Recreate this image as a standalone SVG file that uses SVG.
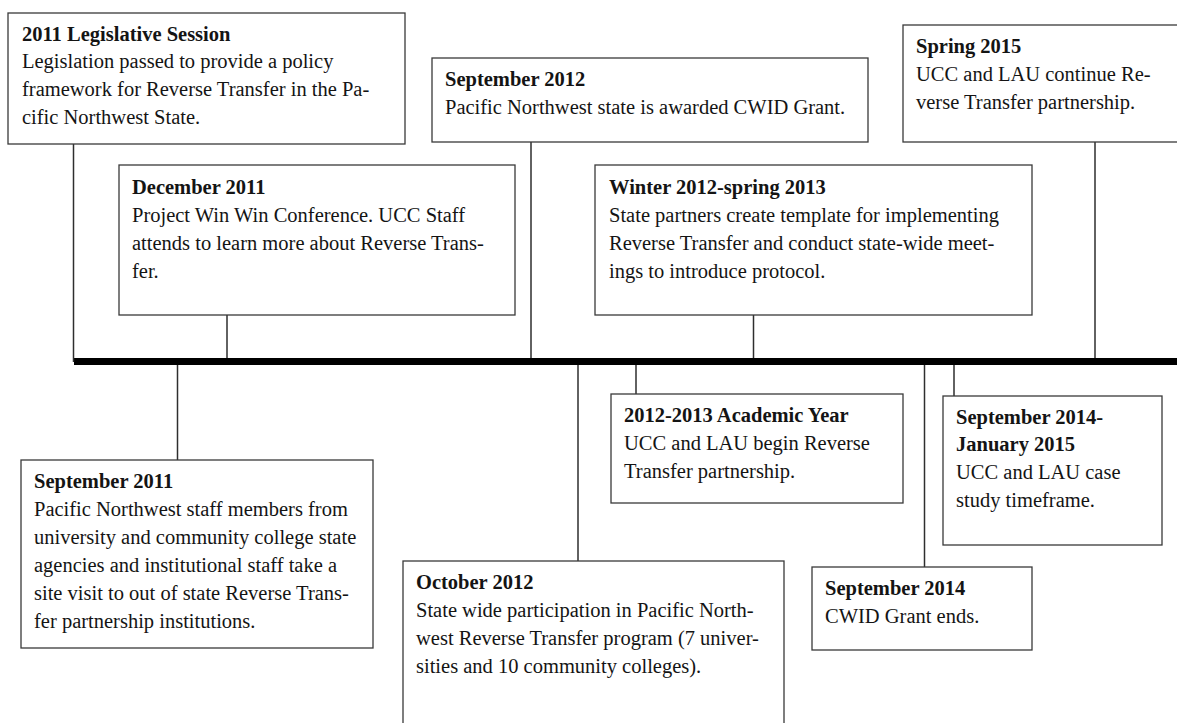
<svg xmlns="http://www.w3.org/2000/svg" width="1177" height="723" viewBox="0 0 1177 723">
  <style>
    .box { fill: #ffffff; stroke: #3a3a3a; stroke-width: 1.3; }
    .lbl { font-family: "Liberation Serif", "Times New Roman", serif; font-size: 20.5px; fill: #141414; }
    .hd { font-weight: bold; }
    .conn { stroke: #2e2e2e; stroke-width: 1.5; fill: none; }
    .axis { stroke: #000000; stroke-width: 7; fill: none; }
  </style>
  <rect width="1177" height="723" fill="#ffffff"/>

  <!-- connectors and the main time axis -->
  <g id="connectors">
    <line class="axis" x1="74" y1="361.5" x2="1177" y2="361.5"/>
    <line class="conn" x1="73.5" y1="144" x2="73.5" y2="362"/>
    <line class="conn" x1="227" y1="315" x2="227" y2="358"/>
    <line class="conn" x1="531" y1="142" x2="531" y2="358"/>
    <line class="conn" x1="753.5" y1="315" x2="753.5" y2="358"/>
    <line class="conn" x1="1095" y1="142" x2="1095" y2="358"/>
    <line class="conn" x1="177.5" y1="365" x2="177.5" y2="460"/>
    <line class="conn" x1="578" y1="365" x2="578" y2="561"/>
    <line class="conn" x1="636" y1="365" x2="636" y2="394"/>
    <line class="conn" x1="924.5" y1="365" x2="924.5" y2="567"/>
    <line class="conn" x1="954" y1="365" x2="954" y2="396"/>
  </g>

  <g id="legislative-2011">
    <rect class="box" x="8" y="13" width="397" height="131"/>
    <text class="lbl hd" x="22" y="40.5">2011 Legislative Session</text>
    <text class="lbl" x="22" y="68">Legislation passed to provide a policy</text>
    <text class="lbl" x="22" y="96">framework for Reverse Transfer in the Pa-</text>
    <text class="lbl" x="22" y="123.5">cific Northwest State.</text>
  </g>

  <g id="sep-2012">
    <rect class="box" x="432" y="58" width="436" height="84"/>
    <text class="lbl hd" x="445" y="86">September 2012</text>
    <text class="lbl" x="445" y="113.5">Pacific Northwest state is awarded CWID Grant.</text>
  </g>

  <g id="spring-2015">
    <rect class="box" x="903" y="25" width="280" height="117"/>
    <text class="lbl hd" x="916" y="53">Spring 2015</text>
    <text class="lbl" x="916" y="81">UCC and LAU continue Re-</text>
    <text class="lbl" x="916" y="108.5">verse Transfer partnership.</text>
  </g>

  <g id="dec-2011">
    <rect class="box" x="119" y="165" width="396" height="150"/>
    <text class="lbl hd" x="132" y="194">December 2011</text>
    <text class="lbl" x="132" y="222">Project Win Win Conference. UCC Staff</text>
    <text class="lbl" x="132" y="250">attends to learn more about Reverse Trans-</text>
    <text class="lbl" x="132" y="278">fer.</text>
  </g>

  <g id="winter-2012">
    <rect class="box" x="595" y="165" width="437" height="150"/>
    <text class="lbl hd" x="609" y="194">Winter 2012-spring 2013</text>
    <text class="lbl" x="609" y="222">State partners create template for implementing</text>
    <text class="lbl" x="609" y="250">Reverse Transfer and conduct state-wide meet-</text>
    <text class="lbl" x="609" y="278">ings to introduce protocol.</text>
  </g>

  <g id="sep-2011">
    <rect class="box" x="21" y="460" width="352" height="188"/>
    <text class="lbl hd" x="34" y="487.5">September 2011</text>
    <text class="lbl" x="34" y="515.5">Pacific Northwest staff members from</text>
    <text class="lbl" x="34" y="543.5">university and community college state</text>
    <text class="lbl" x="34" y="571.5">agencies and institutional staff take a</text>
    <text class="lbl" x="34" y="599.5">site visit to out of state Reverse Trans-</text>
    <text class="lbl" x="34" y="627.5">fer partnership institutions.</text>
  </g>

  <g id="academic-2012">
    <rect class="box" x="611" y="394" width="292" height="109"/>
    <text class="lbl hd" x="624" y="422">2012-2013 Academic Year</text>
    <text class="lbl" x="624" y="450">UCC and LAU begin Reverse</text>
    <text class="lbl" x="624" y="477.5">Transfer partnership.</text>
  </g>

  <g id="sep-2014-jan-2015">
    <rect class="box" x="943" y="396" width="219" height="149"/>
    <text class="lbl hd" x="956" y="423.5">September 2014-</text>
    <text class="lbl hd" x="956" y="451">January 2015</text>
    <text class="lbl" x="956" y="479">UCC and LAU case</text>
    <text class="lbl" x="956" y="507">study timeframe.</text>
  </g>

  <g id="oct-2012">
    <rect class="box" x="403" y="561" width="381" height="170"/>
    <text class="lbl hd" x="416" y="588.5">October 2012</text>
    <text class="lbl" x="416" y="616.5">State wide participation in Pacific North-</text>
    <text class="lbl" x="416" y="645">west Reverse Transfer program (7 univer-</text>
    <text class="lbl" x="416" y="673">sities and 10 community colleges).</text>
  </g>

  <g id="sep-2014">
    <rect class="box" x="812" y="567" width="220" height="83"/>
    <text class="lbl hd" x="825" y="595">September 2014</text>
    <text class="lbl" x="825" y="623">CWID Grant ends.</text>
  </g>
</svg>
